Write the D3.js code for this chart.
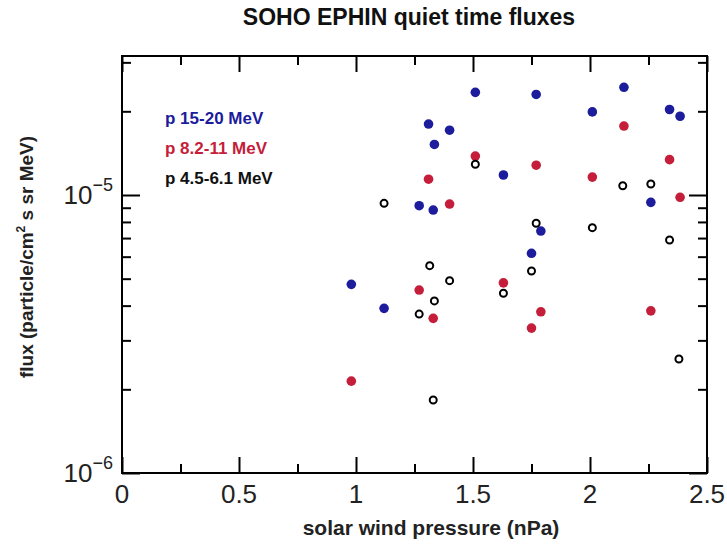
<!DOCTYPE html>
<html>
<head>
<meta charset="utf-8">
<script src="https://cdn.jsdelivr.net/npm/d3@7"></script>
<style>
body { margin: 0; background: #fff; }
svg text { font-family: "Liberation Sans", Arial, Helvetica, sans-serif; }
</style>
</head>
<body>
<svg id="chart" width="727" height="546"></svg>
<script>
// values
var pressureHigh = [0.98, 1.12, 1.27, 1.31, 1.33, 1.335, 1.40, 1.51, 1.63, 1.75, 1.77, 1.79, 2.01, 2.145, 2.26, 2.34, 2.385];
var fluxHigh     = [4.77e-6, 3.91e-6, 9.15e-6, 1.80e-5, 8.83e-6, 1.52e-5, 1.71e-5, 2.34e-5, 1.18e-5, 6.17e-6, 2.30e-5, 7.42e-6, 1.99e-5, 2.44e-5, 9.41e-6, 2.03e-5, 1.92e-5];

var pressureMid = [0.98, 1.27, 1.31, 1.33, 1.40, 1.51, 1.63, 1.75, 1.77, 1.79, 2.01, 2.145, 2.26, 2.34, 2.385];
var fluxMid     = [2.14e-6, 4.55e-6, 1.14e-5, 3.60e-6, 9.28e-6, 1.38e-5, 4.83e-6, 3.32e-6, 1.28e-5, 3.80e-6, 1.16e-5, 1.77e-5, 3.83e-6, 1.34e-5, 9.81e-6];

var pressureLow = [1.12, 1.27, 1.315, 1.33, 1.335, 1.40, 1.51, 1.63, 1.75, 1.77, 2.01, 2.14, 2.26, 2.34, 2.38];
var fluxLow     = [9.33e-6, 3.73e-6, 5.57e-6, 1.83e-6, 4.16e-6, 4.92e-6, 1.29e-5, 4.43e-6, 5.33e-6, 7.91e-6, 7.63e-6, 1.08e-5, 1.095e-5, 6.89e-6, 2.57e-6];

var seriesNames = ["p 15-20 MeV", "p 8.2-11 MeV", "p 4.5-6.1 MeV"];
var xMajorTicks = [0, 0.5, 1, 1.5, 2, 2.5];
var xMinorTicks = [0.25, 0.75, 1.25, 1.75, 2.25];
var yMajorTicks = [1e-6, 1e-5];
var yMinorTicks = [2e-6, 3e-6, 4e-6, 5e-6, 6e-6, 7e-6, 8e-6, 9e-6, 2e-5, 3e-5];

var blue = "#1c1c9c";
var red = "#c41e3a";

// plot frame in pixels ("top" is taken by window.top)
var plotLeft = 122, plotRight = 707, plotTop = 56, plotBottom = 473;

var svg = d3.select("#chart");

var x = d3.scaleLinear().domain([0, 2.5]).range([plotLeft, plotRight]);
var y = d3.scaleLog().domain([1e-6, Math.pow(10, -4.5)]).range([plotBottom, plotTop]);

function zip(xs, ys) {
	return xs.map(function(d, i) { return { p: d, f: ys[i] }; });
}

// ticks, all pointing inward on the four sides
function tickAxis(axis, pos, vals, size) {
	var g = svg.append("g")
		.attr("transform", pos)
		.call(axis.tickValues(vals).tickSize(size).tickFormat(""));
	g.select(".domain").remove();
	g.selectAll("line").attr("stroke", "#000").attr("stroke-width", 2);
	return g;
}

tickAxis(d3.axisBottom(x), "translate(0," + plotBottom + ")", xMajorTicks, -16);
tickAxis(d3.axisBottom(x), "translate(0," + plotBottom + ")", xMinorTicks, -9);
tickAxis(d3.axisTop(x), "translate(0," + plotTop + ")", xMajorTicks, -16);
tickAxis(d3.axisTop(x), "translate(0," + plotTop + ")", xMinorTicks, -9);
tickAxis(d3.axisLeft(y), "translate(" + plotLeft + ",0)", yMajorTicks, -18);
tickAxis(d3.axisLeft(y), "translate(" + plotLeft + ",0)", yMinorTicks, -9);
tickAxis(d3.axisRight(y), "translate(" + plotRight + ",0)", yMajorTicks, -18);
tickAxis(d3.axisRight(y), "translate(" + plotRight + ",0)", yMinorTicks, -9);

svg.append("rect")
	.attr("x", plotLeft).attr("y", plotTop)
	.attr("width", plotRight - plotLeft).attr("height", plotBottom - plotTop)
	.attr("fill", "none").attr("stroke", "#000").attr("stroke-width", 2);

// x tick labels
svg.append("g").selectAll("text")
	.data(xMajorTicks)
	.enter()
	.append("text")
	.attr("x", function(d) { return x(d); })
	.attr("y", plotBottom + 30)
	.attr("text-anchor", "middle")
	.attr("font-size", 26)
	.attr("fill", "#222")
	.text(function(d) { return d; });

// y tick labels as 10 with superscript
var yl = svg.append("g").selectAll("text")
	.data(yMajorTicks)
	.enter()
	.append("text")
	.attr("x", 113)
	.attr("y", function(d) { return y(d) + 9; })
	.attr("text-anchor", "end")
	.attr("fill", "#222");
yl.append("tspan").attr("font-size", 26).text("10");
yl.append("tspan").attr("font-size", 18).attr("dy", -13)
	.text(function(d) { return "\u2212" + (-Math.round(Math.log10(d))); });

// points
function dots(data, color) {
	svg.append("g").selectAll("circle")
		.data(data)
		.enter()
		.append("circle")
		.attr("cx", function(d) { return x(d.p); })
		.attr("cy", function(d) { return y(d.f); })
		.attr("r", 4.8)
		.attr("fill", color);
}
dots(zip(pressureHigh, fluxHigh), blue);
dots(zip(pressureMid, fluxMid), red);

svg.append("g").selectAll("circle")
	.data(zip(pressureLow, fluxLow))
	.enter()
	.append("circle")
	.attr("cx", function(d) { return x(d.p); })
	.attr("cy", function(d) { return y(d.f); })
	.attr("r", 3.5)
	.attr("fill", "#fff")
	.attr("stroke", "#000")
	.attr("stroke-width", 2);

// legend
var legendColors = [blue, red, "#111"];
svg.append("g").selectAll("text")
	.data(seriesNames)
	.enter()
	.append("text")
	.attr("x", 165)
	.attr("y", function(d, i) { return 124 + i * 30; })
	.attr("font-size", 17)
	.attr("font-weight", "bold")
	.attr("fill", function(d, i) { return legendColors[i]; })
	.text(function(d) { return d; });

// titles
svg.append("text")
	.attr("x", 409).attr("y", 25)
	.attr("text-anchor", "middle")
	.attr("font-size", 23)
	.attr("font-weight", "bold")
	.attr("fill", "#111")
	.text("SOHO EPHIN quiet time fluxes");

svg.append("text")
	.attr("x", 431).attr("y", 535)
	.attr("text-anchor", "middle")
	.attr("font-size", 21)
	.attr("font-weight", "bold")
	.attr("fill", "#222")
	.text("solar wind pressure (nPa)");

var ylab = svg.append("text")
	.attr("transform", "translate(33,257) rotate(-90)")
	.attr("text-anchor", "middle")
	.attr("font-size", 19)
	.attr("font-weight", "bold")
	.attr("fill", "#222");
ylab.append("tspan").text("flux (particle/cm");
ylab.append("tspan").attr("font-size", 12).attr("dy", -8).text("2");
ylab.append("tspan").attr("dy", 8).text(" s sr MeV)");
</script>
</body>
</html>
